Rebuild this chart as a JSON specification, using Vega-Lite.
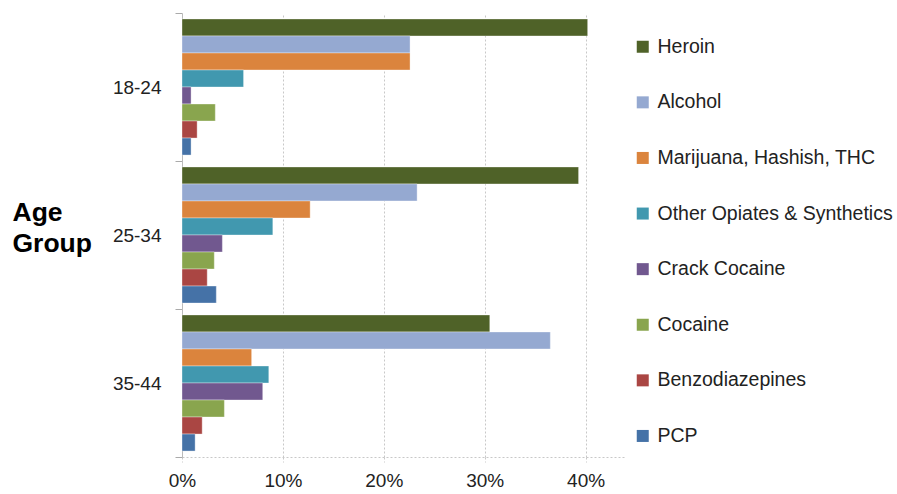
{
  "$schema": "https://vega.github.io/schema/vega-lite/v6.json",
  "width": 444,
  "height": 444,
  "padding": {"left": 12, "top": 4, "right": 2, "bottom": 2},
  "background": "white",
  "config": {
    "font": "Liberation Sans",
    "view": {"stroke": null}
  },
  "data": {
    "values": [
      {"age": "18-24", "drug": "Heroin", "share": 0.402},
      {"age": "18-24", "drug": "Alcohol", "share": 0.226},
      {"age": "18-24", "drug": "Marijuana, Hashish, THC", "share": 0.226},
      {"age": "18-24", "drug": "Other Opiates & Synthetics", "share": 0.061},
      {"age": "18-24", "drug": "Crack Cocaine", "share": 0.009},
      {"age": "18-24", "drug": "Cocaine", "share": 0.033},
      {"age": "18-24", "drug": "Benzodiazepines", "share": 0.015},
      {"age": "18-24", "drug": "PCP", "share": 0.009},
      {"age": "25-34", "drug": "Heroin", "share": 0.393},
      {"age": "25-34", "drug": "Alcohol", "share": 0.233},
      {"age": "25-34", "drug": "Marijuana, Hashish, THC", "share": 0.127},
      {"age": "25-34", "drug": "Other Opiates & Synthetics", "share": 0.090},
      {"age": "25-34", "drug": "Crack Cocaine", "share": 0.040},
      {"age": "25-34", "drug": "Cocaine", "share": 0.032},
      {"age": "25-34", "drug": "Benzodiazepines", "share": 0.025},
      {"age": "25-34", "drug": "PCP", "share": 0.034},
      {"age": "35-44", "drug": "Heroin", "share": 0.305},
      {"age": "35-44", "drug": "Alcohol", "share": 0.365},
      {"age": "35-44", "drug": "Marijuana, Hashish, THC", "share": 0.069},
      {"age": "35-44", "drug": "Other Opiates & Synthetics", "share": 0.086},
      {"age": "35-44", "drug": "Crack Cocaine", "share": 0.080},
      {"age": "35-44", "drug": "Cocaine", "share": 0.042},
      {"age": "35-44", "drug": "Benzodiazepines", "share": 0.020},
      {"age": "35-44", "drug": "PCP", "share": 0.013}
    ]
  },
  "mark": {"type": "bar", "stroke": "white", "strokeOpacity": 0.35, "strokeWidth": 1},
  "encoding": {
    "y": {
      "field": "age",
      "type": "nominal",
      "sort": ["18-24", "25-34", "35-44"],
      "scale": {"paddingInner": 0, "paddingOuter": 0},
      "axis": {
        "title": ["Age", "Group"],
        "titleAngle": 0,
        "titleAlign": "left",
        "titleBaseline": "middle",
        "titleX": -170,
        "titleY": 199,
        "titleFont": "Liberation Sans",
        "titleFontSize": 26.5,
        "titleFontWeight": "bold",
        "titleColor": "#000",
        "titleLineHeight": 31,
        "labelFontSize": 19,
        "labelColor": "#222",
        "labelPadding": 14,
        "tickBand": "extent",
        "tickColor": "#aaa",
        "tickSize": 7,
        "domainColor": "#bbb"
      }
    },
    "yOffset": {
      "field": "drug",
      "type": "nominal",
      "sort": ["Heroin", "Alcohol", "Marijuana, Hashish, THC", "Other Opiates & Synthetics", "Crack Cocaine", "Cocaine", "Benzodiazepines", "PCP"],
      "scale": {"paddingInner": 0, "paddingOuter": 0.35}
    },
    "x": {
      "field": "share",
      "type": "quantitative",
      "scale": {"domain": [0, 0.44], "nice": false},
      "axis": {
        "title": null,
        "format": ".0%",
        "values": [0, 0.1, 0.2, 0.3, 0.4],
        "labelFontSize": 19,
        "labelColor": "#222",
        "labelPadding": 9,
        "labelFlush": false,
        "grid": true,
        "gridColor": "#c8c8c8",
        "gridDash": [2, 2],
        "domainColor": "#c8c8c8",
        "domainDash": [2, 2],
        "tickColor": "#c8c8c8",
        "tickDash": [2, 2],
        "tickSize": 5
      }
    },
    "color": {
      "field": "drug",
      "type": "nominal",
      "sort": ["Heroin", "Alcohol", "Marijuana, Hashish, THC", "Other Opiates & Synthetics", "Crack Cocaine", "Cocaine", "Benzodiazepines", "PCP"],
      "scale": {
        "domain": ["Heroin", "Alcohol", "Marijuana, Hashish, THC", "Other Opiates & Synthetics", "Crack Cocaine", "Cocaine", "Benzodiazepines", "PCP"],
        "range": ["#4F6228", "#95A9D1", "#DB843D", "#4198AF", "#71588F", "#89A54E", "#AA4643", "#4572A7"]
      },
      "legend": {
        "title": null,
        "orient": "none",
        "legendX": 451,
        "legendY": 24,
        "symbolType": "square",
        "symbolSize": 144,
        "symbolStrokeWidth": 0,
        "labelFontSize": 19.5,
        "labelColor": "#222",
        "labelOffset": 5,
        "rowPadding": 34.6,
        "labelLimit": 400
      }
    }
  }
}
